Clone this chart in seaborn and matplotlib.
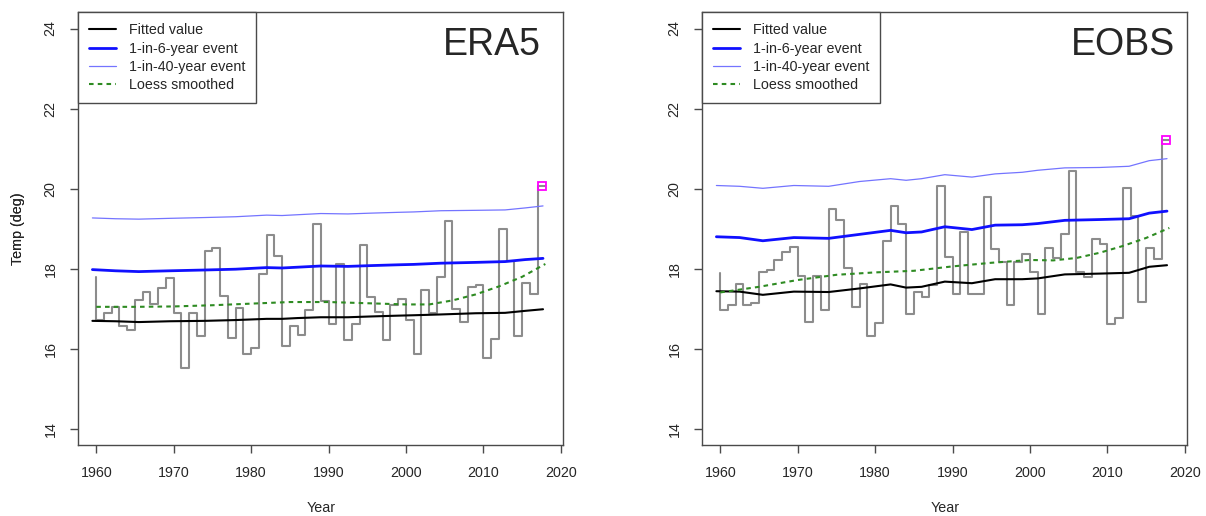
import numpy as np
import pandas as pd
import matplotlib
matplotlib.use("Agg")
import matplotlib.pyplot as plt
import seaborn as sns
from matplotlib.lines import Line2D

# ---------------- data ----------------
# step path vertices (steps-pre): first value is the start of the path at 1960,
# then annual values 1960..2017 drawn over [year, year+1]
step_x = list(range(1960, 2019))
era5_obs = [17.80,
            16.72, 16.89, 17.04, 16.56, 16.48, 17.23, 17.43, 17.11, 17.51, 17.76,
            16.89, 15.52, 16.89, 16.33, 18.45, 18.53, 17.32, 16.27, 17.01, 15.88,
            16.02, 17.86, 18.84, 18.33, 16.08, 16.58, 16.35, 16.97, 19.13, 17.20,
            16.62, 18.13, 16.21, 16.62, 18.59, 17.30, 16.91, 16.23, 17.10, 17.25,
            16.71, 15.88, 17.47, 16.89, 17.80, 19.19, 16.99, 16.66, 17.54, 17.59,
            15.77, 16.25, 19.00, 18.19, 16.31, 17.64, 17.37, 20.08]
eobs_obs = [17.90,
            16.97, 17.10, 17.61, 17.10, 17.14, 17.92, 17.97, 18.23, 18.41, 18.55,
            17.83, 16.67, 17.81, 16.97, 19.49, 19.23, 18.01, 17.05, 17.61, 16.31,
            16.64, 18.69, 19.57, 19.13, 16.87, 17.43, 17.30, 17.59, 20.06, 18.30,
            17.37, 18.92, 17.38, 17.36, 19.79, 18.49, 18.16, 17.09, 18.16, 18.36,
            17.93, 16.87, 18.52, 18.26, 18.88, 20.43, 17.93, 17.79, 18.74, 18.61,
            16.62, 16.77, 20.02, 19.32, 17.16, 18.53, 18.24, 21.22]

event_x = 2017.6
era5_event = 20.08
eobs_event = 21.22

fit_x = [1959.5, 1962.5, 1965.5, 1969.5, 1974, 1978, 1982, 1984, 1986, 1989,
         1992.5, 1995.5, 1999, 2001, 2004.5, 2009, 2012.8, 2015.4, 2017.7]
era5_fit = [16.70, 16.69, 16.67, 16.69, 16.70, 16.72, 16.75, 16.75, 16.77, 16.79,
            16.79, 16.81, 16.83, 16.84, 16.86, 16.89, 16.90, 16.95, 16.99]
era5_rp6 = [17.98, 17.95, 17.93, 17.95, 17.97, 17.99, 18.03, 18.02, 18.04, 18.07,
            18.06, 18.08, 18.10, 18.11, 18.14, 18.16, 18.18, 18.23, 18.26]
era5_rp40 = [19.27, 19.25, 19.24, 19.26, 19.28, 19.30, 19.34, 19.33, 19.35, 19.38,
             19.37, 19.39, 19.41, 19.42, 19.45, 19.46, 19.47, 19.52, 19.57]
eobs_fit = [17.44, 17.43, 17.35, 17.43, 17.42, 17.51, 17.61, 17.53, 17.55, 17.68,
            17.64, 17.74, 17.74, 17.76, 17.86, 17.88, 17.90, 18.05, 18.09]
eobs_rp6 = [18.80, 18.78, 18.70, 18.78, 18.76, 18.86, 18.96, 18.90, 18.92, 19.05,
            18.98, 19.09, 19.10, 19.13, 19.21, 19.23, 19.25, 19.39, 19.44]
eobs_rp40 = [20.08, 20.06, 20.01, 20.08, 20.06, 20.18, 20.25, 20.21, 20.25, 20.35,
             20.29, 20.37, 20.41, 20.46, 20.52, 20.53, 20.56, 20.70, 20.75]

loess_x = [1960, 1965, 1970, 1975, 1980, 1985, 1990, 1995, 2000, 2003, 2006,
           2009, 2012, 2015, 2018]
era5_loess = [17.05, 17.05, 17.06, 17.09, 17.13, 17.17, 17.17, 17.14, 17.11,
              17.11, 17.21, 17.36, 17.56, 17.80, 18.12]
eobs_loess = [17.41, 17.55, 17.72, 17.85, 17.91, 17.95, 18.06, 18.15, 18.22,
              18.21, 18.27, 18.40, 18.57, 18.77, 19.02]

panel_titles = ["ERA5", "EOBS"]
legend_labels = ["Fitted value", "1-in-6-year event", "1-in-40-year event",
                 "Loess smoothed"]
x_ticks = [1960, 1970, 1980, 1990, 2000, 2010, 2020]
y_ticks = [14, 16, 18, 20, 22, 24]

# ---------------- style ----------------
sns.set_style("white")
plt.rcParams["font.family"] = ["Liberation Sans", "DejaVu Sans"]
FS = 10.3

C_STEP = "#8c8c8c"
C_FIT = "#000000"
C_RP6 = "#1010ff"
C_RP40 = "#7474ff"
C_LOESS = "#2e8b22"
C_EVENT = "#ff00ff"
C_BOX = "#4a4a4a"

W, H = 1206, 516
fig = plt.figure(figsize=(W / 100, H / 100), dpi=100)

box_left = [78.3, 702.3]
box_w = 485.0
box_top, box_bot = 12.5, 445.0

panels = [
    (era5_obs, era5_event, era5_fit, era5_rp6, era5_rp40, era5_loess),
    (eobs_obs, eobs_event, eobs_fit, eobs_rp6, eobs_rp40, eobs_loess),
]

for i, (obs, ev, fit, rp6, rp40, lo) in enumerate(panels):
    ax = fig.add_axes([box_left[i] / W, 1 - box_bot / H, box_w / W,
                       (box_bot - box_top) / H])
    sns.lineplot(x=step_x, y=obs, ax=ax, color=C_STEP, lw=1.5,
                 drawstyle="steps-pre", estimator=None, sort=False)
    sns.lineplot(x=fit_x, y=rp40, ax=ax, color=C_RP40, lw=0.9,
                 estimator=None, sort=False)
    sns.lineplot(x=fit_x, y=rp6, ax=ax, color=C_RP6, lw=2.0,
                 estimator=None, sort=False)
    sns.lineplot(x=fit_x, y=fit, ax=ax, color=C_FIT, lw=1.5,
                 estimator=None, sort=False)
    sns.lineplot(x=loess_x, y=lo, ax=ax, color=C_LOESS, lw=1.5,
                 linestyle=(0, (2.2, 2.0)), estimator=None, sort=False)
    ax.plot([event_x], [ev], marker="s", ms=5.2, mfc="none", mec=C_EVENT,
            mew=1.3, ls="none", zorder=5)

    ax.set_xlim(1957.68, 2020.32)
    ax.set_ylim(13.6, 24.4)
    ax.set_xticks(x_ticks)
    ax.set_yticks(y_ticks)
    ax.set_xticklabels([str(t) for t in x_ticks], fontsize=FS)
    ax.set_yticklabels([str(t) for t in y_ticks], fontsize=FS, rotation=90,
                       va="center")
    ax.tick_params(axis="both", direction="out", length=6, width=1.0,
                   color=C_BOX, pad=9, bottom=True, left=True)
    for sp in ax.spines.values():
        sp.set_visible(True)
        sp.set_color(C_BOX)
        sp.set_linewidth(1.0)

    ax.set_xlabel("Year", fontsize=FS)
    ax.set_ylabel("Temp (deg)", fontsize=FS)
    ax.xaxis.set_label_coords(0.5, (box_bot - 508) / (box_bot - box_top))
    ax.xaxis.label.set_va("center")
    ax.yaxis.set_label_coords((18 - box_left[i]) / box_w, 0.5)
    ax.yaxis.label.set_va("center")

    ax.text(0.953 if i == 0 else 0.975, 0.925, panel_titles[i],
            transform=ax.transAxes, ha="right", va="center", fontsize=27)

    handles = [
        Line2D([], [], color=C_FIT, lw=1.5),
        Line2D([], [], color=C_RP6, lw=2.0),
        Line2D([], [], color=C_RP40, lw=0.9),
        Line2D([], [], color=C_LOESS, lw=1.5, linestyle=(0, (2.2, 2.0))),
    ]
    leg = ax.legend(handles, legend_labels, loc="upper left",
                    bbox_to_anchor=(0, 1), borderaxespad=0, fontsize=FS,
                    frameon=True, fancybox=False, framealpha=1,
                    edgecolor=C_BOX, handlelength=1.9, handletextpad=0.9,
                    labelspacing=0.3, borderpad=0.75)
    leg.get_frame().set_linewidth(1.0)

fig.savefig("out.png", dpi=100)
